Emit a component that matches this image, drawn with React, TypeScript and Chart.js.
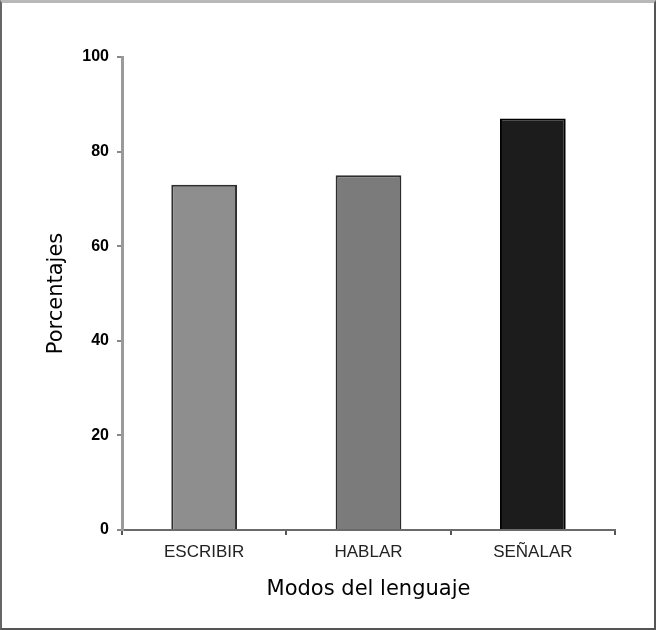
import React, { useEffect, useRef } from "react";
import { Chart, registerables } from "chart.js";

Chart.register(...registerables);

const categories = ["ESCRIBIR", "HABLAR", "SEÑALAR"];
const values = [73, 75, 87];
const barColors = ["#8e8e8e", "#7b7b7b", "#1c1c1c"];
const barBorders = ["#2e2e2e", "#2e2e2e", "#000000"];
const yTicks = [0, 20, 40, 60, 80, 100];
const xTitle = "Modos del lenguaje";
const yTitle = "Porcentajes";

export default function App() {
  const ref = useRef<HTMLCanvasElement | null>(null);

  useEffect(() => {
    if (!ref.current) return;
    const chart = new Chart(ref.current, {
      type: "bar",
      data: {
        labels: categories,
        datasets: [
          {
            data: values,
            backgroundColor: barColors,
            borderColor: barBorders,
            borderWidth: 2,
            categoryPercentage: 1,
            barPercentage: 0.4,
          },
        ],
      },
      options: {
        responsive: false,
        animation: false,
        layout: { padding: { top: 57, right: 45, left: 0, bottom: 0 } },
        plugins: { legend: { display: false }, tooltip: { enabled: false } },
        scales: {
          x: {
            afterFit: (s: any) => {
              s.height = 100;
            },
            grid: {
              drawOnChartArea: false,
              drawTicks: true,
              tickLength: 5,
              color: "#555",
              lineWidth: 2,
              offset: true,
            },
            border: { color: "#6a6a6a", width: 2 },
            ticks: {
              color: "#222",
              padding: 7,
              font: { family: "'Liberation Sans', Arial, sans-serif", size: 17 },
            },
            title: {
              display: true,
              text: xTitle,
              color: "#000",
              font: { family: "'DejaVu Sans', Verdana, sans-serif", size: 21 },
              padding: { top: 0, bottom: 28 },
            },
          },
          y: {
            min: 0,
            max: 100,
            afterFit: (s: any) => {
              s.width = 122;
            },
            afterBuildTicks: (s: any) => {
              s.ticks = yTicks.map((v) => ({ value: v }));
            },
            grid: {
              drawOnChartArea: false,
              drawTicks: true,
              tickLength: 5,
              color: "#888",
              lineWidth: 2,
            },
            border: { color: "#9a9a9a", width: 3 },
            ticks: {
              color: "#000",
              padding: 8,
              font: {
                family: "'Liberation Sans', Arial, sans-serif",
                size: 16,
                weight: "bold",
              },
            },
            title: {
              display: true,
              text: yTitle,
              color: "#000",
              font: { family: "'DejaVu Sans', Verdana, sans-serif", size: 21 },
              padding: { top: 44, bottom: 0 },
            },
          },
        },
      },
    });
    return () => chart.destroy();
  }, []);

  return (
    <div
      style={{
        position: "fixed",
        left: 0,
        top: 0,
        width: 660,
        height: 630,
        background: "#fff",
      }}
    >
      <canvas ref={ref} width={660} height={630} style={{ display: "block" }} />
      <div
        style={{
          position: "absolute",
          left: 0,
          top: 0,
          width: 656,
          height: 630,
          boxSizing: "border-box",
          borderTop: "3px solid #b8b8b8",
          borderLeft: "2px solid #666",
          borderRight: "2px solid #555",
          borderBottom: "2px solid #555",
          pointerEvents: "none",
        }}
      />
    </div>
  );
}
